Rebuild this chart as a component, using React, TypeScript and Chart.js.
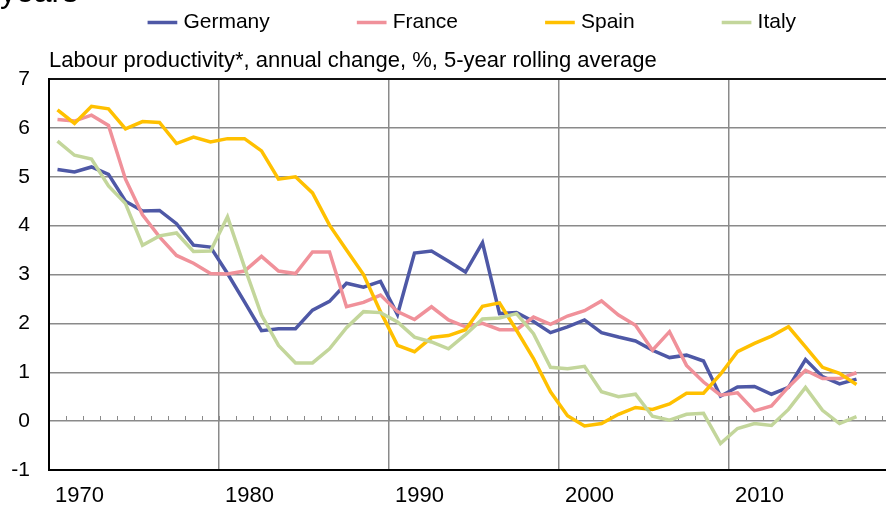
import React, { useEffect, useRef } from 'react';
import { Chart, registerables } from 'chart.js';

Chart.register(...registerables);

// ---- Data ----
const YEARS = [
  1969, 1970, 1971, 1972, 1973, 1974, 1975, 1976, 1977, 1978,
  1979, 1980, 1981, 1982, 1983, 1984, 1985, 1986, 1987, 1988,
  1989, 1990, 1991, 1992, 1993, 1994, 1995, 1996, 1997, 1998,
  1999, 2000, 2001, 2002, 2003, 2004, 2005, 2006, 2007, 2008,
  2009, 2010, 2011, 2012, 2013, 2014, 2015, 2016,
];

const GERMANY = [
  5.15, 5.1, 5.2, 5.05, 4.5, 4.3, 4.31, 4.04, 3.6, 3.56,
  3.02, 2.44, 1.85, 1.89, 1.89, 2.27, 2.45, 2.82, 2.74, 2.86,
  2.18, 3.44, 3.48, 3.27, 3.05, 3.65, 2.2, 2.22, 2.04, 1.81,
  1.93, 2.07, 1.81, 1.72, 1.64, 1.45, 1.3, 1.35, 1.23, 0.51,
  0.7, 0.71, 0.55, 0.69, 1.26, 0.91, 0.76, 0.86,
];

const FRANCE = [
  6.17, 6.14, 6.26, 6.05, 4.95, 4.22, 3.77, 3.39, 3.23, 3.02,
  3.01, 3.07, 3.37, 3.07, 3.02, 3.46, 3.46, 2.34, 2.43, 2.58,
  2.24, 2.08, 2.34, 2.07, 1.93, 2.0, 1.87, 1.87, 2.13, 1.98,
  2.15, 2.26, 2.46, 2.17, 1.96, 1.45, 1.83, 1.14, 0.8, 0.53,
  0.58, 0.21, 0.31, 0.7, 1.04, 0.87, 0.87, 0.99,
];

const SPAIN = [
  6.37, 6.09, 6.44, 6.39, 5.98, 6.13, 6.11, 5.68, 5.81, 5.71,
  5.78, 5.78, 5.53, 4.95, 5.0, 4.67, 4.01, 3.5, 3.0, 2.24,
  1.55, 1.42, 1.71, 1.75, 1.87, 2.35, 2.42, 1.86, 1.28, 0.6,
  0.11, -0.1, -0.05, 0.14, 0.28, 0.24, 0.35, 0.57, 0.57, 0.96,
  1.42, 1.59, 1.74, 1.93, 1.52, 1.1, 0.98, 0.75,
];

const ITALY = [
  5.73, 5.44, 5.36, 4.81, 4.45, 3.6, 3.79, 3.85, 3.47, 3.48,
  4.18, 3.15, 2.17, 1.55, 1.19, 1.19, 1.48, 1.91, 2.24, 2.22,
  2.03, 1.72, 1.62, 1.48, 1.77, 2.09, 2.11, 2.2, 1.79, 1.1,
  1.07, 1.12, 0.6, 0.5, 0.55, 0.1, 0.02, 0.14, 0.16, -0.46,
  -0.15, -0.05, -0.09, 0.24, 0.69, 0.22, -0.05, 0.09,
];

const SERIES_NAMES = ['Germany', 'France', 'Spain', 'Italy'];
const X_GRID_VALUES = [1968.5, 1978.5, 1988.5, 1998.5, 2008.5, 2018.5];
const X_TICK_LABELS = ['1970', '1980', '1990', '2000', '2010', ''];
const X_MIN = 1968.5;
const X_MAX = 2018.5;
const Y_MIN = -1;
const Y_MAX = 7;
const TITLE_TEXT = 'years';
const SUBTITLE_TEXT = 'Labour productivity*, annual change, %, 5-year rolling average';

// ---- Styles ----
const FONT = "'Liberation Sans', Arial, Helvetica, sans-serif";
const COLORS = ['#4e58a6', '#f0919a', '#ffc000', '#c3d69b'];
const GRID = '#8a8a8a';

export default function App() {
  const ref = useRef<HTMLCanvasElement>(null);

  useEffect(() => {
    const canvas = ref.current;
    if (!canvas) return;
    const seriesValues = [GERMANY, FRANCE, SPAIN, ITALY];

    const chart = new Chart(canvas, {
      type: 'line',
      data: {
        datasets: SERIES_NAMES.map((name, i) => ({
          label: name,
          data: YEARS.map((yr, j) => ({ x: yr, y: seriesValues[i][j] })),
          xAxisID: 'x',
          yAxisID: 'y',
          borderColor: COLORS[i],
          backgroundColor: COLORS[i],
          pointBorderColor: COLORS[i],
          pointBackgroundColor: COLORS[i],
          pointBorderWidth: 3.5,
          borderWidth: 3.5,
          pointRadius: 0,
          tension: 0,
          fill: false,
          order: SERIES_NAMES.length - i,
        })),
      },
      options: {
        responsive: false,
        animation: false,
        devicePixelRatio: 1,
        events: [],
        layout: { padding: { left: 0, right: 21, top: 0, bottom: 0 } },
        scales: {
          x: {
            type: 'linear',
            axis: 'x',
            position: 'bottom',
            min: X_MIN,
            max: X_MAX,
            afterBuildTicks: (s: any) => {
              s.ticks = X_GRID_VALUES.map((v) => ({ value: v }));
            },
            afterFit: (s: any) => {
              s.height = 39;
            },
            ticks: {
              autoSkip: false,
              maxRotation: 0,
              labelOffset: 30.5,
              padding: 13,
              color: '#000',
              font: { family: FONT, size: 22 },
              callback: (_v: any, i: number) => X_TICK_LABELS[i] ?? '',
            },
            grid: {
              drawTicks: false,
              color: (c: any) => (c.tick && c.tick.value === X_MIN ? '#000' : GRID),
              lineWidth: 1.5,
            },
            border: { display: true, color: '#000', width: 2 },
          },
          x2: {
            type: 'linear',
            axis: 'x',
            position: { y: 0 },
            min: X_MIN,
            max: X_MAX,
            afterBuildTicks: (s: any) => {
              const t: { value: number }[] = [];
              for (let v = X_MIN; v <= X_MAX; v += 1) t.push({ value: v });
              s.ticks = t;
            },
            ticks: { display: false },
            grid: {
              drawOnChartArea: false,
              drawTicks: true,
              tickLength: -5,
              color: GRID,
              lineWidth: 1,
            },
            border: { display: false },
          },
          y: {
            type: 'linear',
            position: 'left',
            min: Y_MIN,
            max: Y_MAX,
            afterFit: (s: any) => {
              s.width = 49;
            },
            ticks: {
              stepSize: 1,
              padding: 19,
              color: '#000',
              font: { family: FONT, size: 21 },
            },
            grid: {
              drawTicks: false,
              color: (c: any) =>
                c.tick && (c.tick.value === Y_MAX || c.tick.value === Y_MIN) ? '#111' : GRID,
              lineWidth: (c: any) => (c.tick && c.tick.value === Y_MAX ? 2 : 1.5),
            },
            border: { display: true, color: '#000', width: 2 },
          },
        },
        plugins: {
          tooltip: { enabled: false },
          title: {
            display: true,
            text: TITLE_TEXT,
            align: 'start',
            position: 'top',
            fullSize: true,
            weight: 2000,
            color: '#000',
            font: { family: FONT, size: 32, weight: 'normal' },
            padding: { top: 74, bottom: -91.8 },
          },
          legend: {
            display: true,
            position: 'top',
            align: 'center',
            fullSize: false,
            weight: 1800,
            maxHeight: 114,
            labels: {
              usePointStyle: true,
              pointStyle: 'line',
              padding: 91.4,
              color: '#000',
              font: { family: FONT, size: 21 },
              sort: (a: any, b: any) => a.datasetIndex - b.datasetIndex,
            },
          },
          subtitle: {
            display: true,
            text: SUBTITLE_TEXT,
            align: 'start',
            position: 'top',
            fullSize: false,
            weight: 1500,
            color: '#000',
            font: { family: FONT, size: 22, weight: 'normal' },
            padding: { top: 12.9, bottom: 5.1 },
          },
        },
      } as any,
    });

    return () => chart.destroy();
  }, []);

  return (
    <div
      style={{
        position: 'absolute',
        left: 0,
        top: 0,
        width: 886,
        height: 507,
        overflow: 'hidden',
        background: '#fff',
      }}
    >
      <canvas
        ref={ref}
        width={920}
        height={609}
        style={{ position: 'absolute', left: 0, top: -100, display: 'block' }}
      />
    </div>
  );
}
